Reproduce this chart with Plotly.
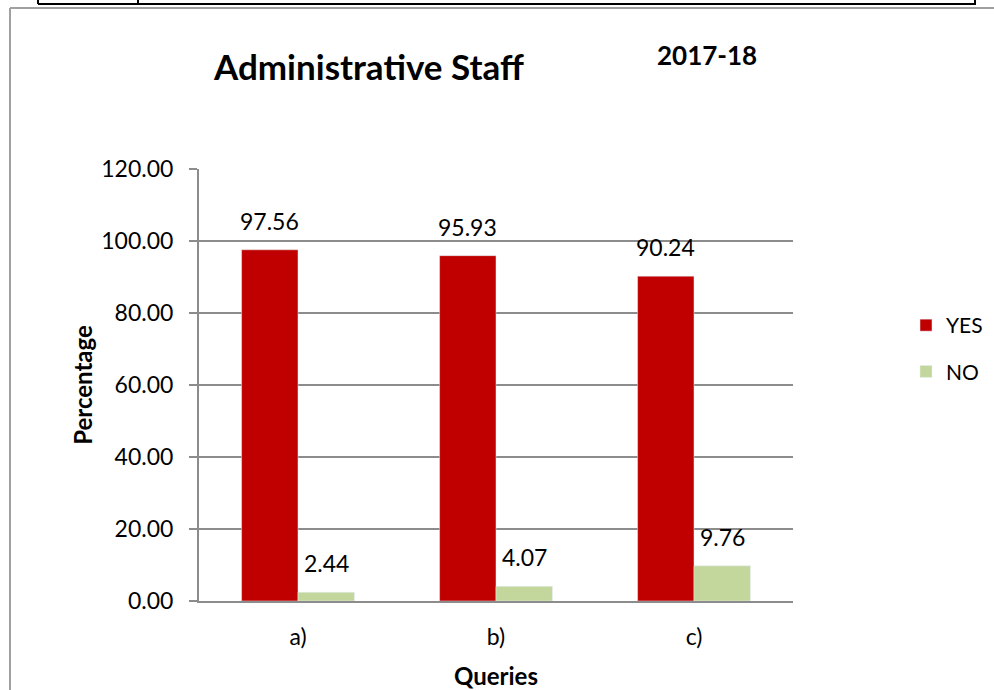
import plotly.graph_objects as go

categories = ["a)", "b)", "c)"]
yes_values = [97.56, 95.93, 90.24]
no_values = [2.44, 4.07, 9.76]
y_ticks = [0, 20, 40, 60, 80, 100, 120]
y_tick_labels = ["%.2f" % v for v in y_ticks]

RED = "#C00000"
GREEN = "#C3D69B"
GRID = "#8C8C8C"
FONT = "Lato, Carlito, Calibri, sans-serif"

W, H = 994, 690
L, R, T, B = 199, 201, 169, 89
pw, ph = W - L - R, H - T - B

def px_x(x):
    return (x - L) / pw

def px_y(y):
    return (H - B - y) / ph

fig = go.Figure()
fig.add_trace(go.Bar(x=categories, y=yes_values, name="YES", marker_color=RED,
                     legendgroup="yes"))
fig.add_trace(go.Bar(x=categories, y=no_values, name="NO", marker_color=GREEN,
                     legendgroup="no"))

bargap = 0.43
bar_px = pw / len(categories) * (1 - bargap) / 2
annotations = []
for series, shift in ((yes_values, -bar_px / 2), (no_values, bar_px / 2)):
    for c, v in zip(categories, series):
        annotations.append(dict(x=c, y=v, xref="x", yref="y", text="%.2f" % v,
                                showarrow=False, xshift=shift, yshift=13,
                                xanchor="center", yanchor="bottom",
                                font=dict(size=23, color="#000", family=FONT)))

annotations += [
    dict(x=px_x(368), y=px_y(66), xref="paper", yref="paper",
         xanchor="center", yanchor="middle",
         text="<b>Administrative Staff</b>", showarrow=False,
         font=dict(size=35, color="#000", family=FONT)),
    dict(x=px_x(707), y=px_y(55), xref="paper", yref="paper",
         xanchor="center", yanchor="middle",
         text="<b>2017-18</b>", showarrow=False,
         font=dict(size=26, color="#000", family=FONT)),
]

shapes = [
    dict(type="line", xref="paper", yref="paper", x0=px_x(10), x1=px_x(10),
         y0=px_y(8), y1=px_y(700), line=dict(color="#A0A0A0", width=2)),
    dict(type="line", xref="paper", yref="paper", x0=px_x(10), x1=px_x(1000),
         y0=px_y(8), y1=px_y(8), line=dict(color="#A0A0A0", width=2)),
    dict(type="line", xref="paper", yref="paper", x0=px_x(38), x1=px_x(976),
         y0=px_y(4), y1=px_y(4), line=dict(color="#000", width=2)),
]
for xv in (38, 138, 975):
    shapes.append(dict(type="line", xref="paper", yref="paper", x0=px_x(xv), x1=px_x(xv),
                       y0=px_y(-2), y1=px_y(4), line=dict(color="#000", width=2)))

fig.update_layout(
    width=W, height=H,
    margin=dict(l=L, r=R, t=T, b=B, pad=0, autoexpand=False),
    paper_bgcolor="white", plot_bgcolor="white",
    barmode="group", bargap=bargap, bargroupgap=0,
    font=dict(family=FONT, color="#000"),
    showlegend=True,
    legend=dict(x=px_x(906), y=px_y(305), xanchor="left", yanchor="top",
                font=dict(size=21, family=FONT), tracegroupgap=16,
                itemwidth=30, bgcolor="rgba(0,0,0,0)"),
    annotations=annotations,
    shapes=shapes,
    xaxis=dict(showline=True, linecolor=GRID, linewidth=2, ticks="",
               ticklabelstandoff=14,
               tickfont=dict(size=23, family=FONT),
               title=dict(text="<b>Queries</b>", font=dict(size=24, family=FONT), standoff=22)),
    yaxis=dict(range=[0, 120], tickvals=y_ticks, ticktext=y_tick_labels,
               showgrid=True, gridcolor=GRID, gridwidth=2, zeroline=False,
               showline=True, linecolor=GRID, linewidth=2,
               ticks="outside", ticklen=8, tickcolor=GRID, tickwidth=2,
               ticklabelstandoff=11,
               tickfont=dict(size=23, family=FONT),
               title=dict(text="<b>Percentage</b>", font=dict(size=24, family=FONT), standoff=2)),
)

fig.write_html("out.html", config={"displayModeBar": False},
               post_script="document.body.style.margin='0';document.body.style.overflow='hidden';")
